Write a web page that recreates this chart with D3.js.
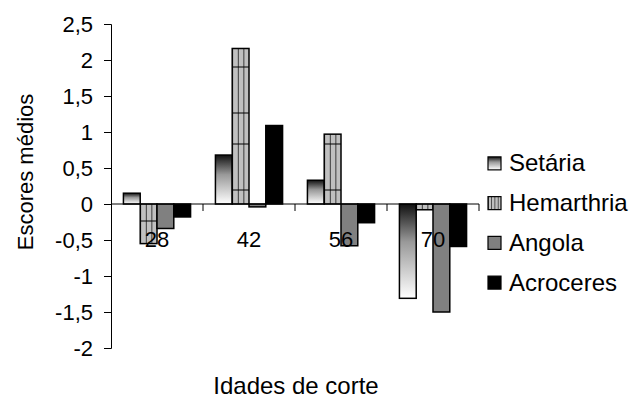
<!DOCTYPE html>
<html>
<head>
<meta charset="utf-8">
<script src="https://cdn.jsdelivr.net/npm/d3@7/dist/d3.min.js"></script>
<style>
  html, body { margin: 0; padding: 0; background: #fff; }
  text { font-family: "Liberation Sans", Arial, sans-serif; fill: #000; }
</style>
</head>
<body>
<svg id="chart" width="635" height="399"></svg>
<script>
const categories = ["28", "42", "56", "70"];
const seriesNames = ["Setária", "Hemarthria", "Angola", "Acroceres"];
const setaria    = [0.15, 0.68, 0.33, -1.31];
const hemarthria = [-0.55, 2.16, 0.97, -0.08];
const angola     = [-0.34, -0.04, -0.58, -1.50];
const acroceres  = [-0.18, 1.09, -0.26, -0.59];
const yTicks = [-2, -1.5, -1, -0.5, 0, 0.5, 1, 1.5, 2, 2.5];

const seriesValues = [setaria, hemarthria, angola, acroceres];

const svg = d3.select("#chart");
const defs = svg.append("defs");

const left = 111, right = 479;
const x0 = d3.scaleBand().domain(categories).range([left, right]).padding(0);
const x1 = d3.scaleBand().domain(seriesNames).range([0, x0.bandwidth()])
  .paddingInner(0).paddingOuter(0.74);
const y = d3.scaleLinear().domain([-2, 2.5]).range([348, 24]);

// gradient for Setária
const g = defs.append("linearGradient").attr("id", "gradSet")
  .attr("x1", 0).attr("y1", 0).attr("x2", 0).attr("y2", 1);
g.append("stop").attr("offset", "0%").attr("stop-color", "#111");
g.append("stop").attr("offset", "40%").attr("stop-color", "#999");
g.append("stop").attr("offset", "100%").attr("stop-color", "#fff");

// hatch patterns for Hemarthria (one per bar so columns align with bar edges)
function hemPattern(id, x0pos, colW, period, hl) {
  const p = defs.append("pattern").attr("id", id)
    .attr("patternUnits", "userSpaceOnUse").attr("width", colW).attr("height", period)
    .attr("x", x0pos).attr("y", 0);
  p.append("rect").attr("width", colW).attr("height", period).attr("fill", "#c0c0c0");
  p.append("line").attr("x1", 0).attr("x2", 0).attr("y1", 0).attr("y2", period)
    .attr("stroke", "#000").attr("stroke-width", 1.4);
  hl.forEach(h => p.append("line").attr("x1", 0).attr("x2", colW).attr("y1", h).attr("y2", h)
    .attr("stroke", "#000").attr("stroke-width", 1));
}
categories.forEach((c, ci) => {
  hemPattern("hem" + ci, x0(c) + x1("Hemarthria"), x1.bandwidth() / 3, 77, [36, 67]);
});

const fillFor = (si, ci) => si === 0 ? "url(#gradSet)" : si === 1 ? `url(#hem${ci})` : si === 2 ? "#808080" : "#000";

// bars
const bars = [];
seriesNames.forEach((s, si) => {
  categories.forEach((c, ci) => {
    bars.push({ s, si, c, ci, v: seriesValues[si][ci] });
  });
});
svg.append("g").selectAll("rect").data(bars).enter().append("rect")
  .attr("x", d => x0(d.c) + x1(d.s))
  .attr("y", d => Math.min(y(d.v), y(0)))
  .attr("width", x1.bandwidth())
  .attr("height", d => Math.abs(y(d.v) - y(0)))
  .attr("fill", d => fillFor(d.si, d.ci))
  .attr("stroke", "#000").attr("stroke-width", 1.5);

// y axis
const yAxis = d3.axisLeft(y).tickValues(yTicks).tickSize(7).tickPadding(11)
  .tickFormat(d => String(d).replace(".", ","));
const ya = svg.append("g").attr("transform", `translate(${left},0)`).call(yAxis);
ya.select(".domain").attr("stroke", "#000");
ya.selectAll(".tick line").attr("stroke", "#000");
ya.selectAll("text").style("font-size", "22px").style("font-family", "Liberation Sans, Arial, sans-serif");

// x axis at zero
const xa = svg.append("g").attr("transform", `translate(0,${y(0)})`);
xa.append("line").attr("x1", left).attr("x2", right).attr("y1", 0).attr("y2", 0)
  .attr("stroke", "#000");
const bounds = categories.map(c => x0(c)).concat([right]);
xa.selectAll("line.tk").data(bounds.slice(1)).enter().append("line").attr("class", "tk")
  .attr("x1", d => d).attr("x2", d => d).attr("y1", 0).attr("y2", 7).attr("stroke", "#000");
xa.selectAll("text").data(categories).enter().append("text")
  .attr("x", d => x0(d) + x0.bandwidth() / 2).attr("y", 43)
  .attr("text-anchor", "middle").style("font-size", "22px").text(d => d);

// axis titles
svg.append("text").attr("transform", "translate(33,172) rotate(-90)")
  .attr("text-anchor", "middle").style("font-size", "22px").text("Escores médios");
svg.append("text").attr("x", 296).attr("y", 394)
  .attr("text-anchor", "middle").style("font-size", "24px").text("Idades de corte");

// legend
const legHem = defs.append("pattern").attr("id", "legHem")
  .attr("patternUnits", "userSpaceOnUse").attr("width", 3.25).attr("height", 20)
  .attr("x", 488).attr("y", 0);
legHem.append("rect").attr("width", 3.25).attr("height", 20).attr("fill", "#c0c0c0");
legHem.append("line").attr("x1", 0).attr("x2", 0).attr("y1", 0).attr("y2", 20)
  .attr("stroke", "#000").attr("stroke-width", 1.2);
const legFills = ["url(#gradSet)", "url(#legHem)", "#808080", "#000"];
const lg = svg.append("g");
const legY = d3.scaleBand().domain(seriesNames).range([143, 302]);
seriesNames.forEach((s, i) => {
  const cy = legY(s) + legY.bandwidth() / 2;
  lg.append("rect").attr("x", 488).attr("y", cy - 6).attr("width", 13).attr("height", 13)
    .attr("fill", legFills[i]).attr("stroke", "#000").attr("stroke-width", 1.2);
  lg.append("text").attr("x", 509).attr("y", cy + 8.5).style("font-size", "24px").text(s);
});
</script>
</body>
</html>
